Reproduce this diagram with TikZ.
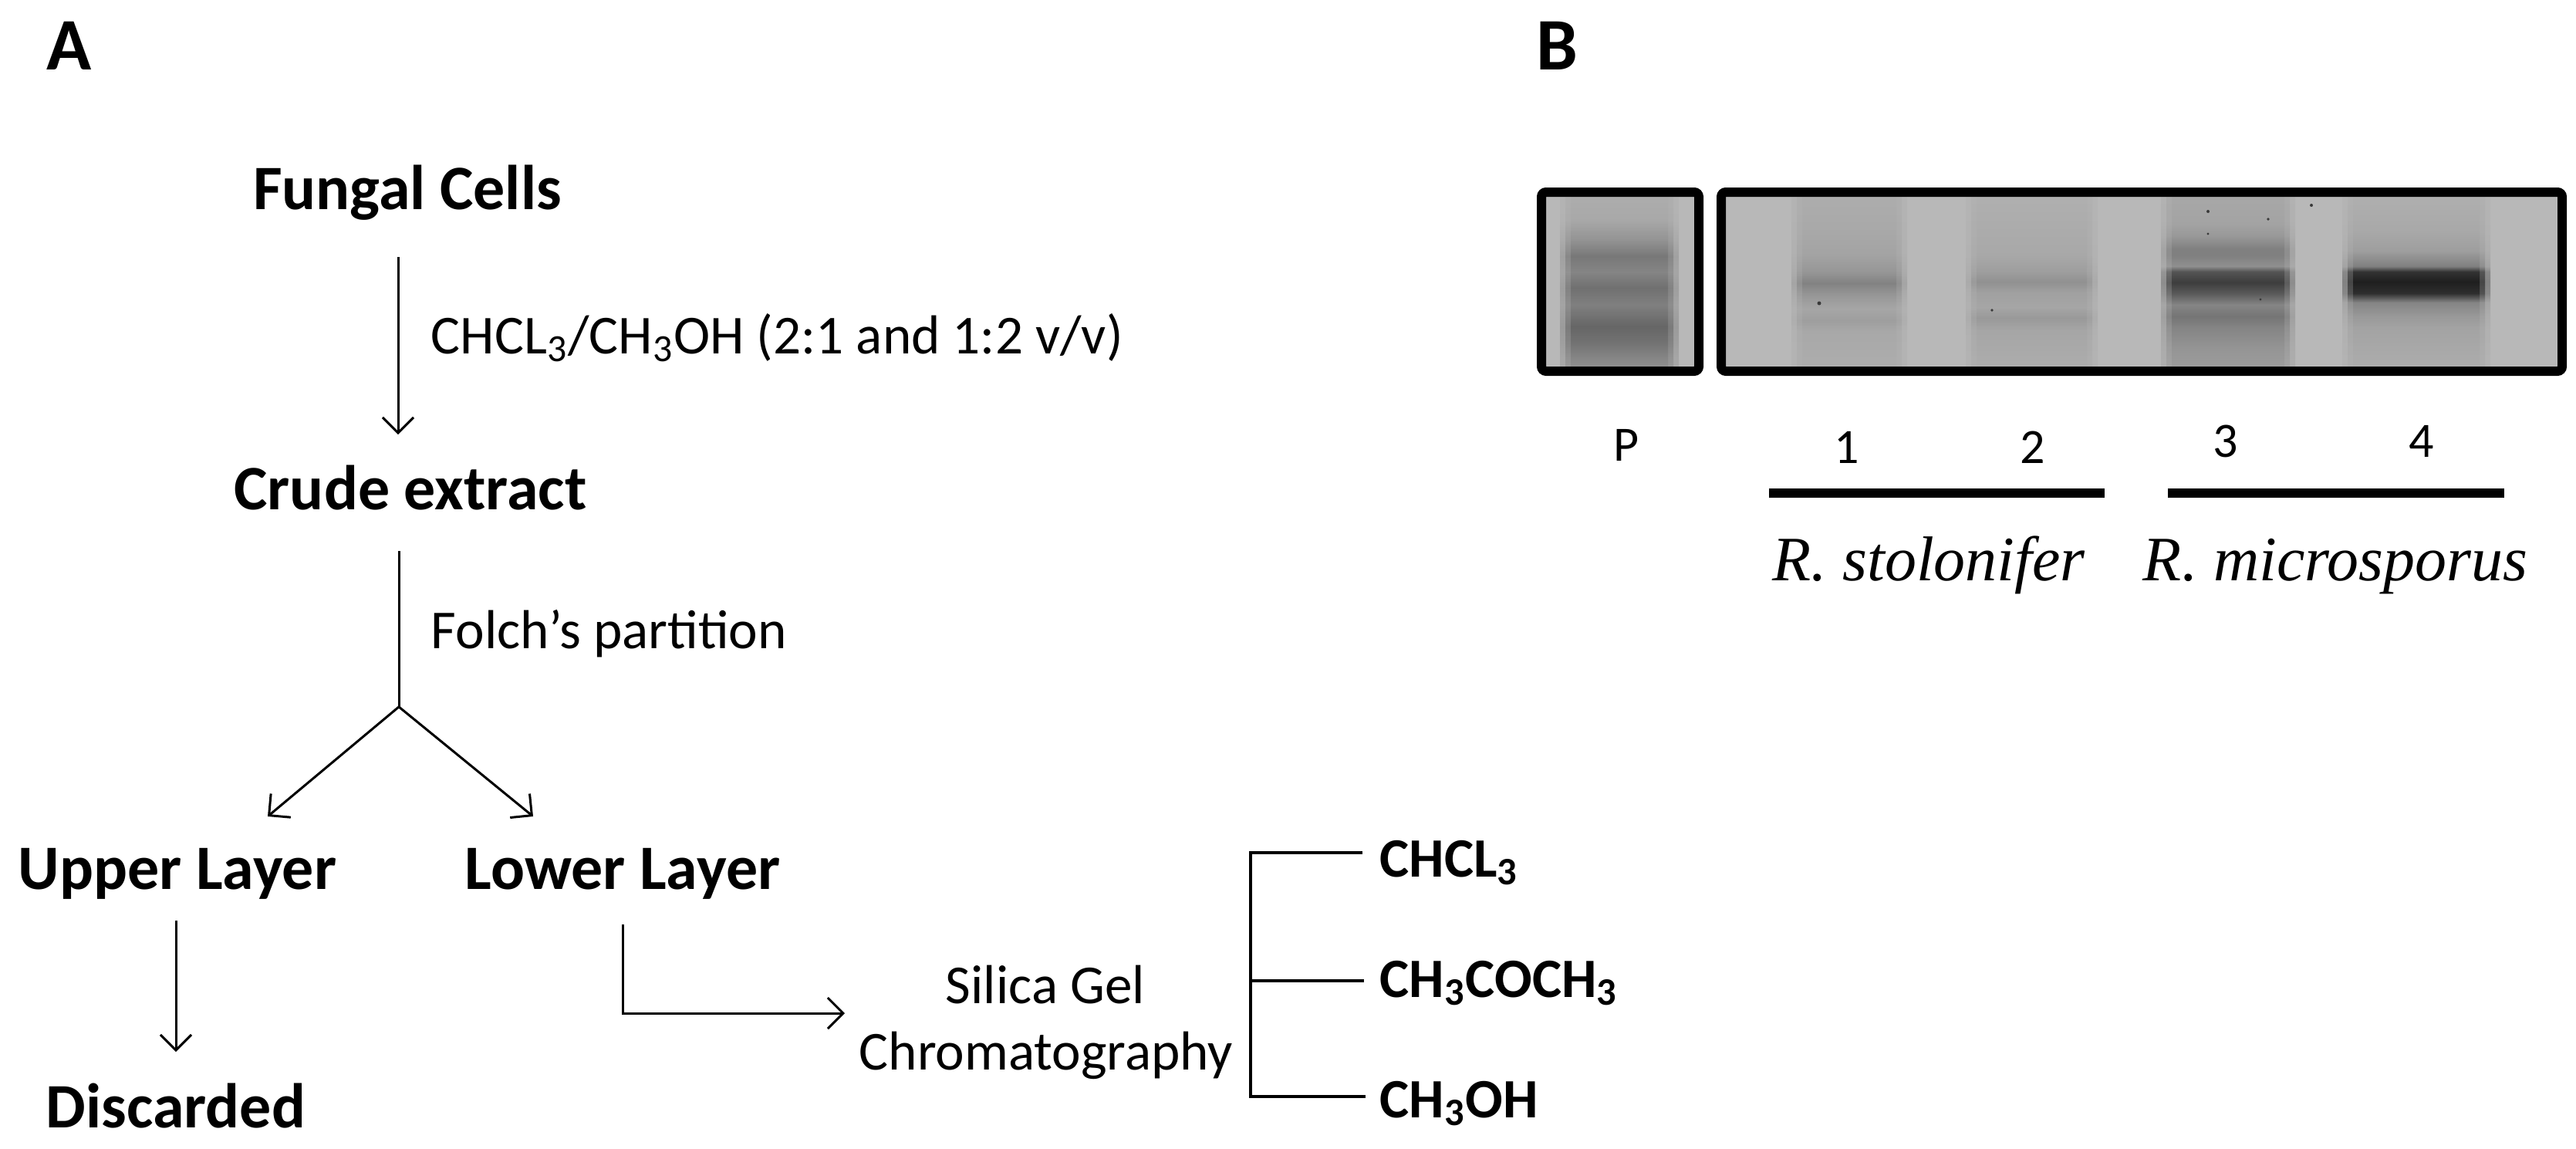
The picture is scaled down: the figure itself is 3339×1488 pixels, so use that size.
\documentclass[tikz,border=0pt]{standalone}
\usepackage{fontspec}
\setmainfont{Carlito}
\newfontfamily\specfont{Liberation Serif}
\usetikzlibrary{arrows.meta}
\definecolor{gelbg}{gray}{0.72}
% vertical lane profiles (path maps to 25bp..75bp, bottom to top)
\pgfdeclareverticalshading{laneP}{100bp}{rgb(0bp)=(.58,.58,.58); rgb(25bp)=(.58,.58,.58); rgb(28.45bp)=(.53,.53,.53); rgb(32.76bp)=(.45,.45,.45); rgb(37.5bp)=(.40,.40,.40); rgb(43.53bp)=(.50,.50,.50); rgb(48.28bp)=(.44,.44,.44); rgb(52.8bp)=(.52,.52,.52); rgb(57.11bp)=(.47,.47,.47); rgb(61.85bp)=(.58,.58,.58); rgb(67.24bp)=(.66,.66,.66); rgb(75bp)=(.68,.68,.68); rgb(100bp)=(.68,.68,.68)}
\pgfdeclareverticalshading{laneA}{100bp}{rgb(0bp)=(.68,.68,.68); rgb(25bp)=(.68,.68,.68); rgb(35.99bp)=(.66,.66,.66); rgb(39.22bp)=(.62,.62,.62); rgb(42.46bp)=(.65,.65,.65); rgb(46.34bp)=(.59,.59,.59); rgb(49.57bp)=(.51,.51,.51); rgb(52.8bp)=(.59,.59,.59); rgb(57.54bp)=(.64,.64,.64); rgb(64.01bp)=(.66,.66,.66); rgb(75bp)=(.68,.68,.68); rgb(100bp)=(.68,.68,.68)}
\pgfdeclareverticalshading{laneB}{100bp}{rgb(0bp)=(.68,.68,.68); rgb(25bp)=(.68,.68,.68); rgb(36.42bp)=(.65,.65,.65); rgb(39.87bp)=(.60,.60,.60); rgb(42.89bp)=(.65,.65,.65); rgb(46.77bp)=(.63,.63,.63); rgb(50bp)=(.57,.57,.57); rgb(52.8bp)=(.62,.62,.62); rgb(57.54bp)=(.66,.66,.66); rgb(75bp)=(.69,.69,.69); rgb(100bp)=(.69,.69,.69)}
\pgfdeclareverticalshading{laneC}{100bp}{rgb(0bp)=(.62,.62,.62); rgb(25bp)=(.62,.62,.62); rgb(31.68bp)=(.58,.58,.58); rgb(37.07bp)=(.52,.52,.52); rgb(40.3bp)=(.46,.46,.46); rgb(43.53bp)=(.52,.52,.52); rgb(46.77bp)=(.35,.35,.35); rgb(49.78bp)=(.24,.24,.24); rgb(52.8bp)=(.33,.33,.33); rgb(54.31bp)=(.56,.56,.56); rgb(57.5bp)=(.50,.50,.50); rgb(59.05bp)=(.50,.50,.50); rgb(62.93bp)=(.60,.60,.60); rgb(66.16bp)=(.64,.64,.64); rgb(75bp)=(.66,.66,.66); rgb(100bp)=(.66,.66,.66)}
\pgfdeclareverticalshading{laneD}{100bp}{rgb(0bp)=(.68,.68,.68); rgb(25bp)=(.68,.68,.68); rgb(37.07bp)=(.64,.64,.64); rgb(40.3bp)=(.60,.60,.60); rgb(44.18bp)=(.52,.52,.52); rgb(46.77bp)=(.18,.18,.18); rgb(50bp)=(.12,.12,.12); rgb(52.8bp)=(.20,.20,.20); rgb(54.31bp)=(.50,.50,.50); rgb(58.62bp)=(.62,.62,.62); rgb(64.01bp)=(.66,.66,.66); rgb(75bp)=(.69,.69,.69); rgb(100bp)=(.69,.69,.69)}
% lane with soft side edges: x1 x2 shading
\newcommand\gellane[3]{%
  \shade[shading=#3, opacity=.35] ({#1-14},249) rectangle ({#2+14},481);
  \shade[shading=#3, opacity=.6] ({#1-7},249) rectangle ({#2+7},481);
  \shade[shading=#3] (#1,249) rectangle (#2,481);}
\begin{document}
\begin{tikzpicture}[x=0.25pt,y=-0.25pt,
  arr/.style={line width=0.75pt,-{Straight Barb[length=5pt,width=10pt,line width=0.75pt]}},
  ln/.style={line width=0.75pt},
  brk/.style={line width=1pt},
  panel/.style={font=\fontsize{24}{28}\selectfont\bfseries, inner sep=0pt, anchor=base west},
  bl/.style={font=\fontsize{20.5}{24}\selectfont\bfseries, inner sep=0pt, anchor=base},
  bs/.style={font=\fontsize{18}{22}\selectfont\bfseries, inner sep=0pt, anchor=base west},
  rg/.style={font=\fontsize{17.8}{21}\selectfont, inner sep=0pt, anchor=base west},
  lane/.style={font=\fontsize{16}{20}\selectfont, inner sep=0pt, anchor=base},
  spec/.style={font=\fontsize{20.5}{24}\specfont\itshape, inner sep=0pt, anchor=base},
  gelbox/.style={line width=3pt, rounded corners=1.5pt},
  bar/.style={line width=3pt},
  speck/.style={fill=gray!45!black}
]
\useasboundingbox (0,0) rectangle (3339,1488);
% ---------- panel labels
\node[panel] (pA) at (60,90) {A};
\node[panel] (pB) at (1991,90) {B};
% ---------- panel A
\node[bl] (fungal) at (528,271) {Fungal Cells};
\node[bl] (crude) at (532,660) {Crude extract};
\node[bl] (upper) at (230,1152) {Upper Layer};
\node[bl] (lower) at (807,1152) {Lower Layer};
\node[bl] (disc) at (228,1461) {Discarded};
\node[rg, anchor=base] (silica) at (1355,1300) {Silica Gel};
\node[rg, anchor=base] (chrom) at (1356,1386) {Chromatography};
\node[bs] (chcl) at (1788,1136) {CHCL\textsubscript{3}};
\node[bs] (acet) at (1788,1292) {CH\textsubscript{3}COCH\textsubscript{3}};
\node[bs] (meoh) at (1788,1448) {CH\textsubscript{3}OH};
\node[rg] (solv) at (558,458) {CHCL\textsubscript{3}/CH\textsubscript{3}OH (2:1 and 1:2 v/v)};
\node[rg] (folch) at (558,840) {Folch’s partition};
% connector points
\coordinate (a1s) at (516,333);
\coordinate (a1e) at (516,563);
\coordinate (f1s) at (517,714);
\coordinate (split) at (517,916);
\coordinate (ul) at (347,1058);
\coordinate (lr) at (691,1058);
\coordinate (u1s) at (228,1193);
\coordinate (u1e) at (228,1363);
\coordinate (l1s) at (807,1198);
\coordinate (lturn) at (807,1313);
\coordinate (l1e) at (1095,1313);
\coordinate (bt) at (1621,1105);
\coordinate (bm) at (1621,1271);
\coordinate (bb) at (1621,1421);
\coordinate (ht) at (1766,1105);
\coordinate (hm) at (1768,1271);
\coordinate (hb) at (1770,1421);
\draw[arr] (a1s) -- (a1e);
\draw[ln] (f1s) -- (split);
\draw[arr] (split) -- (ul);
\draw[arr] (split) -- (lr);
\draw[arr] (u1s) -- (u1e);
\draw[arr] (l1s) -- (lturn) -- (l1e);
\draw[brk] (ht) -- (bt) -- (bb) -- (hb);
\draw[brk] (bm) -- (hm);
% ---------- panel B : gel
\fill[gelbg] (1998,249) rectangle (2202,481);
\fill[gelbg] (2231,249) rectangle (3321,481);
\gellane{2036}{2162}{laneP}
\gellane{2336}{2458}{laneA}
\gellane{2562}{2705}{laneB}
\gellane{2815}{2961}{laneC}
\gellane{3050}{3214}{laneD}
% dust specks
\fill[speck] (2358,393) circle (2.5);
\fill[speck] (2582,402) circle (1.8);
\fill[speck] (2862,274) circle (2);
\fill[speck] (2940,284) circle (1.8);
\fill[speck] (2996,266) circle (2);
\fill[speck] (2862,303) circle (1.6);
\fill[speck] (2930,388) circle (1.6);
\draw[gelbox] (1998,249) rectangle (2202,481);
\draw[gelbox] (2231,249) rectangle (3321,481);
% lane labels
\node[lane] (lP) at (2108,597) {P};
\node[lane] (l1) at (2394,600) {1};
\node[lane] (l2) at (2635,600) {2};
\node[lane] (l3) at (2885,592) {3};
\node[lane] (l4) at (3139,592) {4};
\coordinate (b1a) at (2293,639);
\coordinate (b1b) at (2728,639);
\coordinate (b2a) at (2810,639);
\coordinate (b2b) at (3246,639);
\draw[bar] (b1a) -- (b1b);
\draw[bar] (b2a) -- (b2b);
\node[spec] (rs) at (2500,752) {R. stolonifer};
\node[spec] (rm) at (3027,752) {R. microsporus};
\end{tikzpicture}
\end{document}
